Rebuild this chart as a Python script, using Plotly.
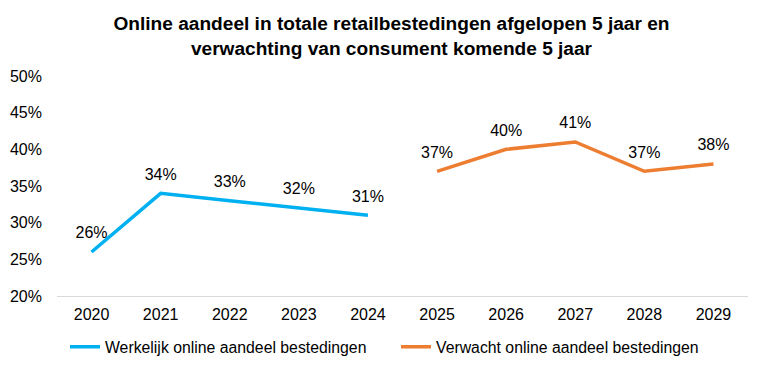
import plotly.graph_objects as go

years = ["2020", "2021", "2022", "2023", "2024", "2025", "2026", "2027", "2028", "2029"]
actual_years = ["2020", "2021", "2022", "2023", "2024"]
actual_values = [26, 34, 33, 32, 31]
expected_years = ["2025", "2026", "2027", "2028", "2029"]
expected_values = [37, 40, 41, 37, 38]
y_ticks = [20, 25, 30, 35, 40, 45, 50]

font = "Liberation Sans, Arial, sans-serif"
clear = "rgba(0,0,0,0)"

fig = go.Figure()
fig.add_trace(go.Scatter(
    x=actual_years, y=actual_values, mode="lines+markers+text",
    name="Werkelijk online aandeel bestedingen",
    line=dict(color="#00B0F0", width=3.5),
    marker=dict(size=14, color=clear),
    text=[f"{v}%" for v in actual_values], textposition="top center",
    textfont=dict(size=16, color="#000000", family=font),
))
fig.add_trace(go.Scatter(
    x=expected_years, y=expected_values, mode="lines+markers+text",
    name="Verwacht online aandeel bestedingen",
    line=dict(color="#ED7D31", width=3.5),
    marker=dict(size=14, color=clear),
    text=[f"{v}%" for v in expected_values], textposition="top center",
    textfont=dict(size=16, color="#000000", family=font),
))

fig.update_layout(
    width=768, height=370,
    paper_bgcolor="white", plot_bgcolor="white",
    margin=dict(l=49, r=28, t=68, b=82, autoexpand=False),
    font=dict(family=font, size=16, color="#000000"),
    title=dict(
        text="<b>Online aandeel in totale retailbestedingen afgelopen 5 jaar en<br>verwachting van consument komende 5 jaar</b>",
        x=383.5 / 768, xanchor="center", xref="container",
        yref="container", y=1 - 22 / 370, yanchor="middle",
        font=dict(size=19.1, family=font, color="#000000"),
    ),
    xaxis=dict(
        type="category", categoryorder="array", categoryarray=years,
        range=[-0.5, 9.5], showgrid=False, showline=True, linecolor="#D9D9D9",
        linewidth=1, ticks="", ticklabelstandoff=4, automargin=False,
        tickfont=dict(size=16, family=font, color="#000000"),
    ),
    yaxis=dict(
        range=[20, 50], tickvals=y_ticks, ticktext=[f"{v}%" for v in y_ticks],
        showgrid=False, zeroline=False, showline=False, ticks="",
        ticklabelstandoff=14, automargin=False,
        tickfont=dict(size=16, family=font, color="#000000"),
    ),
    legend=dict(
        orientation="h", x=8 / 691, xanchor="left",
        yref="container", y=31 / 370, yanchor="middle",
        font=dict(size=15.8, family=font, color="#000000"),
        itemwidth=30, tracegroupgap=0, entrywidth=286,
    ),
    showlegend=True,
)

fig.write_html("out.html")
